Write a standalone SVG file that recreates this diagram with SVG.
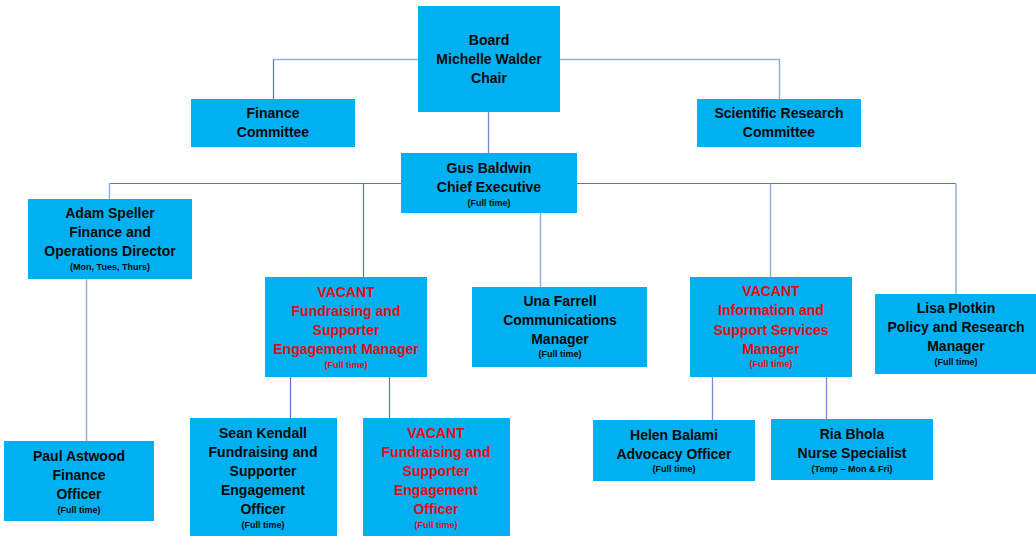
<svg xmlns="http://www.w3.org/2000/svg" width="1036" height="536" viewBox="0 0 1036 536">
<style>
.box{fill:#00B0F0;}
text{font-family:"Liberation Sans",Arial,sans-serif;font-weight:bold;text-anchor:middle;fill:#0a0a0a;}
.t{font-size:14px;}
.s{font-size:9px;}
.red{fill:#E80A10;}
.cd{stroke:#4F74C8;stroke-width:1.2;fill:none;}
.cl{stroke:#93AEDF;stroke-width:1.5;fill:none;}
.cm{stroke:#6F8ED4;stroke-width:1.3;fill:none;}
</style>
<rect width="1036" height="536" fill="#FFFFFF"/>
<g id="connectors">
<path class="cl" d="M273.5 59.5 H418"/>
<path class="cd" d="M273.5 59.5 V99"/>
<path class="cl" d="M560 59.5 H779.5 V99"/>
<path class="cm" d="M488.5 112 V153"/>
<path class="cd" d="M109.5 183.5 H401 M577 183.5 H956"/>
<path class="cl" d="M109.5 183.5 V199"/>
<path class="cd" d="M363.5 183.5 V277"/>
<path class="cl" d="M540.5 213 V287"/>
<path class="cl" d="M770.5 183.5 V277"/>
<path class="cl" d="M956 183.5 V294"/>
<path class="cl" d="M86.5 279 V441"/>
<path class="cd" d="M290.5 377 V418"/>
<path class="cd" d="M389.5 377 V418"/>
<path class="cm" d="M712.5 377 V420"/>
<path class="cm" d="M826.5 377 V419"/>
</g>
<g id="board">
<rect class="box" x="418" y="6" width="142" height="106"/>
<text class="t" x="489" y="45">Board</text>
<text class="t" x="489" y="64">Michelle Walder</text>
<text class="t" x="489" y="83">Chair</text>
</g>
<g id="finance-committee">
<rect class="box" x="191" y="99" width="164" height="48"/>
<text class="t" x="273" y="118">Finance</text>
<text class="t" x="273" y="137">Committee</text>
</g>
<g id="scientific-committee">
<rect class="box" x="697" y="99" width="164" height="48"/>
<text class="t" x="779" y="118">Scientific Research</text>
<text class="t" x="779" y="137">Committee</text>
</g>
<g id="gus">
<rect class="box" x="401" y="153" width="176" height="60"/>
<text class="t" x="489" y="173">Gus Baldwin</text>
<text class="t" x="489" y="192">Chief Executive</text>
<text class="s" x="489" y="206">(Full time)</text>
</g>
<g id="adam">
<rect class="box" x="28" y="199" width="164" height="80"/>
<text class="t" x="110" y="218">Adam Speller</text>
<text class="t" x="110" y="237">Finance and</text>
<text class="t" x="110" y="256">Operations Director</text>
<text class="s" x="110" y="270">(Mon, Tues, Thurs)</text>
</g>
<g id="fundraising-manager">
<rect class="box" x="265" y="277" width="162" height="100"/>
<text class="t red" x="346" y="297">VACANT</text>
<text class="t red" x="346" y="316">Fundraising and</text>
<text class="t red" x="346" y="335">Supporter</text>
<text class="t red" x="346" y="354">Engagement Manager</text>
<text class="s red" x="346" y="368">(Full time)</text>
</g>
<g id="una">
<rect class="box" x="472" y="287" width="175" height="80"/>
<text class="t" x="560" y="306">Una Farrell</text>
<text class="t" x="560" y="325">Communications</text>
<text class="t" x="560" y="344">Manager</text>
<text class="s" x="560" y="357">(Full time)</text>
</g>
<g id="info-manager">
<rect class="box" x="690" y="277" width="162" height="100"/>
<text class="t red" x="771" y="296">VACANT</text>
<text class="t red" x="771" y="315">Information and</text>
<text class="t red" x="771" y="335">Support Services</text>
<text class="t red" x="771" y="354">Manager</text>
<text class="s red" x="771" y="367">(Full time)</text>
</g>
<g id="lisa">
<rect class="box" x="875" y="294" width="161" height="80"/>
<text class="t" x="956" y="313">Lisa Plotkin</text>
<text class="t" x="956" y="332">Policy and Research</text>
<text class="t" x="956" y="351">Manager</text>
<text class="s" x="956" y="365">(Full time)</text>
</g>
<g id="paul">
<rect class="box" x="4" y="441" width="150" height="80"/>
<text class="t" x="79" y="461">Paul Astwood</text>
<text class="t" x="79" y="480">Finance</text>
<text class="t" x="79" y="499">Officer</text>
<text class="s" x="79" y="513">(Full time)</text>
</g>
<g id="sean">
<rect class="box" x="190" y="418" width="147" height="118"/>
<text class="t" x="263" y="438">Sean Kendall</text>
<text class="t" x="263" y="457">Fundraising and</text>
<text class="t" x="263" y="476">Supporter</text>
<text class="t" x="263" y="495">Engagement</text>
<text class="t" x="263" y="514">Officer</text>
<text class="s" x="263" y="528">(Full time)</text>
</g>
<g id="fundraising-officer">
<rect class="box" x="363" y="418" width="147" height="118"/>
<text class="t red" x="436" y="438">VACANT</text>
<text class="t red" x="436" y="457">Fundraising and</text>
<text class="t red" x="436" y="476">Supporter</text>
<text class="t red" x="436" y="495">Engagement</text>
<text class="t red" x="436" y="514">Officer</text>
<text class="s red" x="436" y="528">(Full time)</text>
</g>
<g id="helen">
<rect class="box" x="593" y="420" width="162" height="61"/>
<text class="t" x="674" y="440">Helen Balami</text>
<text class="t" x="674" y="459">Advocacy Officer</text>
<text class="s" x="674" y="472">(Full time)</text>
</g>
<g id="ria">
<rect class="box" x="771" y="419" width="162" height="61"/>
<text class="t" x="852" y="439">Ria Bhola</text>
<text class="t" x="852" y="458">Nurse Specialist</text>
<text class="s" x="852" y="472">(Temp – Mon &amp; Fri)</text>
</g>
</svg>
